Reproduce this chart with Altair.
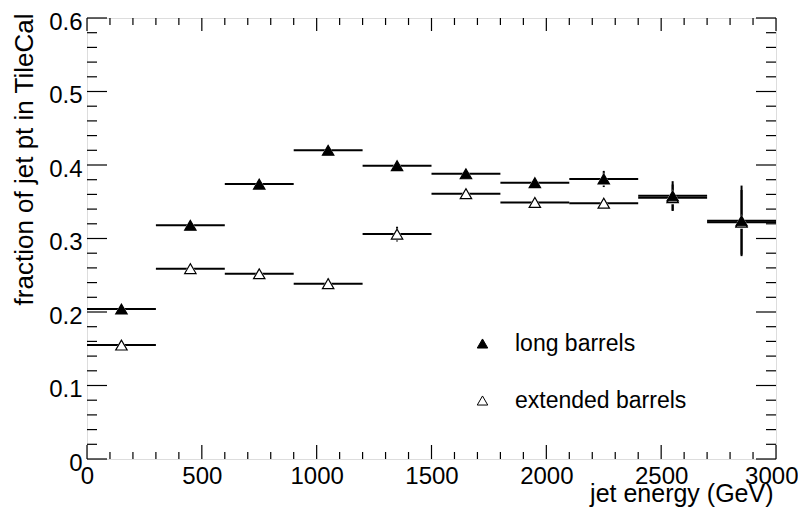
import altair as alt
import pandas as pd

# ---- data ----
bin_lo = [0, 300, 600, 900, 1200, 1500, 1800, 2100, 2400, 2700]
bin_hi = [300, 600, 900, 1200, 1500, 1800, 2100, 2400, 2700, 3000]
bin_center = [150, 450, 750, 1050, 1350, 1650, 1950, 2250, 2550, 2850]

long_vals = [0.204, 0.318, 0.374, 0.420, 0.399, 0.388, 0.376, 0.381, 0.358, 0.324]
long_err = [0.003, 0.003, 0.003, 0.003, 0.004, 0.004, 0.005, 0.011, 0.020, 0.048]
ext_vals = [0.155, 0.259, 0.252, 0.2385, 0.306, 0.361, 0.349, 0.348, 0.3555, 0.322]
ext_err = [0.002, 0.003, 0.003, 0.007, 0.010, 0.004, 0.004, 0.005, 0.018, 0.044]

series_names = ["long barrels", "extended barrels"]

x_major = [0, 500, 1000, 1500, 2000, 2500, 3000]
x_minor = [100, 200, 300, 400, 600, 700, 800, 900, 1100, 1200, 1300, 1400,
           1600, 1700, 1800, 1900, 2100, 2200, 2300, 2400, 2600, 2700, 2800, 2900]
y_major = [0.0, 0.1, 0.2, 0.3, 0.4, 0.5, 0.6]
y_minor = [0.02, 0.04, 0.06, 0.08, 0.12, 0.14, 0.16, 0.18, 0.22, 0.24, 0.26, 0.28,
           0.32, 0.34, 0.36, 0.38, 0.42, 0.44, 0.46, 0.48, 0.52, 0.54, 0.56, 0.58]

x_title = "jet energy (GeV)"
y_title = "fraction of jet pt in TileCal"

# ---- tables ----
rows = []
for name, vals, errs in [("extended barrels", ext_vals, ext_err),
                         ("long barrels", long_vals, long_err)]:
    for lo, hi, c, v, e in zip(bin_lo, bin_hi, bin_center, vals, errs):
        rows.append(dict(series=name, lo=lo, hi=hi, c=c, v=v, elo=v - e, ehi=v + e))
df = pd.DataFrame(rows)

W, H = 689, 441
FONT = "Liberation Sans"

xs = alt.Scale(domain=[0, 3000], nice=False, zero=False)
ys = alt.Scale(domain=[0, 0.6], nice=False, zero=False)

# main x axis: all labels but the last one
xaxis = alt.Axis(values=x_major[:-1], format="d", domain=False, ticks=False, tickSize=0,
                 grid=False, labelPadding=5, labelFontSize=24, labelFlush=False,
                 labelOverlap=False, title=x_title, titleFontSize=25,
                 titleFontWeight="normal", titleAlign="right", titleBaseline="alphabetic",
                 titleX=686, titleY=42, titleAnchor="end", orient="bottom")
# last x label, pulled in so it stays inside the page
xaxis_end = alt.Axis(values=x_major[-1:], format="d", domain=False, ticks=False,
                     tickSize=0, grid=False, labelPadding=5, labelFontSize=24,
                     labelFlush=True, labelFlushOffset=22, labelOverlap=False,
                     title=None, orient="bottom")
yaxis = alt.Axis(values=y_major, format=".1~f", domain=False, ticks=False, tickSize=0,
                 grid=False, labelPadding=5, labelFontSize=24, labelFlush=False,
                 labelOverlap=False, labelBaseline="alphabetic", labelOffset=11,
                 title=y_title, titleFontSize=26, titleFontWeight="normal",
                 titleAngle=270, titleAlign="right", titleBaseline="alphabetic",
                 titleX=-55, titleY=-5, titleAnchor="end")

base = alt.Chart(df)

hbars = base.mark_rule(color="black", strokeWidth=2).encode(
    x=alt.X("lo:Q", scale=xs, axis=xaxis),
    x2="hi:Q",
    y=alt.Y("v:Q", scale=ys, axis=yaxis),
)
vbars = base.mark_rule(color="black", strokeWidth=2).encode(
    x=alt.X("c:Q", scale=xs, axis=xaxis),
    y=alt.Y("elo:Q", scale=ys, axis=yaxis),
    y2="ehi:Q",
)
halo = base.mark_point(shape="triangle-up", filled=True, color="white", opacity=1,
                       size=220).encode(
    x=alt.X("c:Q", scale=xs, axis=xaxis),
    y=alt.Y("v:Q", scale=ys, axis=yaxis),
)
legend = alt.Legend(title=None, orient="none", legendX=384, legendY=314, padding=0,
                    labelFontSize=23, labelFont=FONT, labelColor="black", labelLimit=0,
                    symbolSize=110, symbolStrokeWidth=1,
                    rowPadding=33, labelOffset=21, symbolType="triangle-up")
markers = base.mark_point(filled=True, strokeWidth=1.2, opacity=1,
                          size=130).encode(
    x=alt.X("c:Q", scale=xs, axis=xaxis),
    y=alt.Y("v:Q", scale=ys, axis=yaxis),
    shape=alt.Shape("series:N", scale=alt.Scale(domain=series_names,
                    range=["triangle-up", "triangle-up"]), legend=legend),
    fill=alt.Fill("series:N", scale=alt.Scale(domain=series_names,
                  range=["black", "white"]), legend=legend),
    stroke=alt.Stroke("series:N", scale=alt.Scale(domain=series_names,
                      range=["black", "black"]), legend=legend),
)

def xticks(vals, length, top, axis):
    d = pd.DataFrame({"t": vals})
    y0 = 0 if top else H
    y1 = length if top else H - length
    return alt.Chart(d).mark_rule(color="black", strokeWidth=1.2).encode(
        x=alt.X("t:Q", scale=xs, axis=axis), y=alt.value(y0), y2=alt.value(y1))

def yticks(vals, length, right):
    d = pd.DataFrame({"t": vals})
    x0 = W if right else 0
    x1 = W - length if right else length
    return alt.Chart(d).mark_rule(color="black", strokeWidth=1.2).encode(
        y=alt.Y("t:Q", scale=ys, axis=yaxis), x=alt.value(x0), x2=alt.value(x1))

ticks = [
    xticks(x_major, 14, False, xaxis), xticks(x_minor, 7, False, xaxis),
    xticks(x_minor, 7, True, xaxis),
    yticks(y_major, 20, False), yticks(y_minor, 10, False),
    yticks(y_major, 20, True), yticks(y_minor, 10, True),
]

main = alt.layer(hbars, vbars, halo, markers, *ticks)
end_layer = xticks(x_major, 13, True, xaxis_end)

chart = alt.layer(main, end_layer).resolve_axis(x="independent").properties(
    width=W, height=H,
    autosize=alt.AutoSizeParams(type="none"),
    padding={"left": 79, "top": 10, "right": 22, "bottom": 48},
    background="white",
).configure_view(stroke="black", strokeWidth=2).configure(
    font=FONT
).configure_axis(labelFont=FONT, titleFont=FONT, labelColor="black", titleColor="black")

chart.save("out.html", embed_options={"renderer": "svg", "actions": False})
